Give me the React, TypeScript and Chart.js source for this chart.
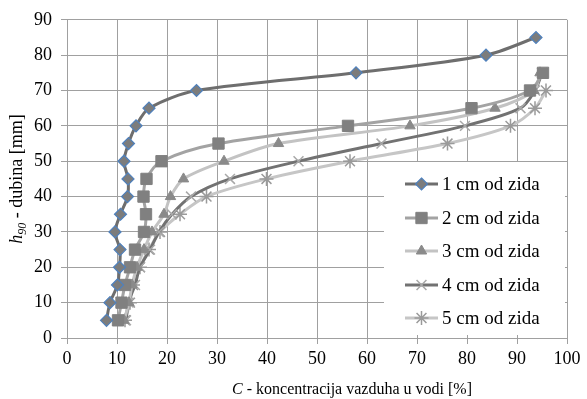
import { useEffect, useRef } from 'react';
import { Chart, registerables } from 'chart.js';

Chart.register(...registerables);

const seriesLabels = ['1 cm od zida', '2 cm od zida', '3 cm od zida', '4 cm od zida', '5 cm od zida'];

const depth1 = [5, 10, 15, 20, 25, 30, 35, 40, 45, 50, 55, 60, 65, 70, 75, 80, 85];
const conc1 = [7.9, 8.6, 10.1, 10.5, 10.6, 9.6, 10.7, 12.1, 12.2, 11.4, 12.3, 13.8, 16.4, 25.9, 57.8, 83.8, 93.8];

const depth2 = [5, 10, 15, 20, 25, 30, 35, 40, 45, 50, 55, 60, 65, 70, 75];
const conc2 = [10.2, 10.9, 11.6, 12.6, 13.6, 15.4, 15.8, 15.3, 15.9, 18.9, 30.3, 56.2, 80.9, 92.6, 95.2];

const depth3 = [5, 10, 15, 20, 25, 30, 35, 40, 45, 50, 55, 60, 65, 70, 75];
const conc3 = [11.4, 12.4, 13.0, 14.0, 15.4, 17.0, 19.4, 20.7, 23.3, 31.4, 42.3, 68.6, 85.6, 93.4, 94.6];

const depth4 = [5, 10, 15, 20, 25, 30, 35, 40, 45, 50, 55, 60, 65, 70, 75];
const conc4 = [11.8, 12.3, 13.6, 14.6, 16.6, 18.4, 21.0, 24.8, 32.6, 46.3, 62.9, 79.6, 90.7, 93.6, 95.0];

const depth5 = [5, 10, 15, 20, 25, 30, 35, 40, 45, 50, 55, 60, 65, 70];
const conc5 = [11.6, 12.6, 13.2, 14.6, 16.4, 18.6, 22.6, 27.9, 39.9, 56.6, 76.1, 88.7, 93.6, 95.8];

const xTicks = [0, 10, 20, 30, 40, 50, 60, 70, 80, 90, 100];
const yTicks = [0, 10, 20, 30, 40, 50, 60, 70, 80, 90];

const SERIF = "'Liberation Serif', 'Times New Roman', serif";
Chart.defaults.font.family = SERIF;

const pts = (xs: number[], ys: number[]) => xs.map((x, i) => ({ x, y: ys[i] }));

function drawMarker(ctx: CanvasRenderingContext2D, style: string, x: number, y: number, r: number) {
  ctx.beginPath();
  if (style === 'rectRot') {
    ctx.moveTo(x, y - r);
    ctx.lineTo(x + r, y);
    ctx.lineTo(x, y + r);
    ctx.lineTo(x - r, y);
    ctx.closePath();
    ctx.fill();
    ctx.stroke();
  } else if (style === 'rect') {
    const s = r * Math.SQRT1_2;
    ctx.rect(x - s, y - s, 2 * s, 2 * s);
    ctx.fill();
    ctx.stroke();
  } else if (style === 'triangle') {
    ctx.moveTo(x, y - r);
    ctx.lineTo(x + r * 0.866, y + r * 0.5);
    ctx.lineTo(x - r * 0.866, y + r * 0.5);
    ctx.closePath();
    ctx.fill();
    ctx.stroke();
  } else if (style === 'crossRot') {
    const d = r * Math.SQRT1_2;
    ctx.moveTo(x - d, y - d); ctx.lineTo(x + d, y + d);
    ctx.moveTo(x - d, y + d); ctx.lineTo(x + d, y - d);
    ctx.stroke();
  } else if (style === 'star') {
    const d = r * Math.SQRT1_2;
    ctx.moveTo(x - d, y - d); ctx.lineTo(x + d, y + d);
    ctx.moveTo(x - d, y + d); ctx.lineTo(x + d, y - d);
    ctx.moveTo(x, y - r); ctx.lineTo(x, y + r);
    ctx.moveTo(x - r, y); ctx.lineTo(x + r, y);
    ctx.stroke();
  }
}

const titlesAndLegend = {
  id: 'titlesAndLegend',
  afterDraw(chart: any) {
    const ctx = chart.ctx as CanvasRenderingContext2D;
    const area = chart.chartArea;
    ctx.save();
    // X title
    ctx.fillStyle = '#000';
    ctx.textBaseline = 'alphabetic';
    const xParts: [string, string][] = [
      ['italic 16px ' + SERIF, 'C'],
      ['16px ' + SERIF, ' - koncentracija vazduha u vodi [%]'],
    ];
    let total = 0;
    xParts.forEach(([f, t]) => { ctx.font = f; total += ctx.measureText(t).width; });
    let cx = 352 - total / 2;
    xParts.forEach(([f, t]) => { ctx.font = f; ctx.fillText(t, cx, 394); cx += ctx.measureText(t).width; });

    // Y title
    ctx.save();
    ctx.translate(22, (area.top + area.bottom) / 2);
    ctx.rotate(-Math.PI / 2);
    const yParts: [string, string, number][] = [
      ['italic 18px ' + SERIF, 'h', 0],
      ['italic 12px ' + SERIF, '90', 4],
      ['18px ' + SERIF, ' - dubina [mm]', 0],
    ];
    total = 0;
    yParts.forEach(([f, t]) => { ctx.font = f; total += ctx.measureText(t).width; });
    cx = -total / 2;
    yParts.forEach(([f, t, dy]) => { ctx.font = f; ctx.fillText(t, cx, dy); cx += ctx.measureText(t).width; });
    ctx.restore();

    // Legend box
    const lx = 384, ly = 162, lw = 181, lh = 173;
    ctx.fillStyle = '#fff';
    ctx.fillRect(lx, ly, lw, lh);
    const rowY = [184, 218, 251, 285, 318];
    chart.data.datasets.forEach((ds: any, i: number) => {
      const y = rowY[i];
      ctx.strokeStyle = ds.borderColor;
      ctx.lineWidth = ds.borderWidth;
      ctx.beginPath();
      ctx.moveTo(405, y);
      ctx.lineTo(438, y);
      ctx.stroke();
      ctx.fillStyle = ds.pointBackgroundColor;
      ctx.strokeStyle = ds.pointBorderColor;
      ctx.lineWidth = ds.pointBorderWidth;
      drawMarker(ctx, ds.pointStyle, 421.5, y, ds.pointRadius);
      ctx.fillStyle = '#000';
      ctx.font = '19px ' + SERIF;
      ctx.textBaseline = 'middle';
      ctx.fillText(ds.label, 442, y + 1);
    });
    ctx.restore();
  },
};

export default function App() {
  const ref = useRef<HTMLCanvasElement>(null);
  useEffect(() => {
    if (!ref.current) return;
    const mk = (i: number, d: number[], c: number[], line: string, style: string, fill: string, border: string, radius: number, bw: number) => ({
      label: seriesLabels[i],
      data: pts(c, d),
      showLine: true,
      borderColor: line,
      borderWidth: 3,
      tension: 0.3,
      pointStyle: style,
      pointBackgroundColor: fill,
      pointBorderColor: border,
      pointBorderWidth: bw,
      pointRadius: radius,
      pointHoverRadius: radius,
    });
    const chart = new Chart(ref.current, {
      type: 'scatter',
      data: {
        datasets: [
          mk(0, depth1, conc1, '#6e6e6e', 'rectRot', '#7c7c7c', '#4f81bd', 6, 1.2),
          mk(1, depth2, conc2, '#a3a3a3', 'rect', '#808080', '#808080', 8, 1),
          mk(2, depth3, conc3, '#c3c3c3', 'triangle', '#8a8a8a', '#8a8a8a', 6, 1),
          mk(3, depth4, conc4, '#727272', 'crossRot', '#a8a8a8', '#a8a8a8', 7, 1.5),
          mk(4, depth5, conc5, '#c6c6c6', 'star', '#9a9a9a', '#9a9a9a', 7, 1.5),
        ] as any,
      },
      options: {
        animation: false,
        responsive: false,
        maintainAspectRatio: false,
        layout: { padding: { top: 17, right: 20, left: 0, bottom: 0 } },
        plugins: { legend: { display: false }, tooltip: { enabled: false }, title: { display: false } },
        scales: {
          x: {
            type: 'linear',
            min: 0,
            max: 100,
            afterFit: (s: any) => { s.height = 61; },
            afterBuildTicks: (s: any) => { s.ticks = xTicks.map((v) => ({ value: v })); },
            ticks: { font: { family: SERIF, size: 18 }, color: '#000', padding: 4, maxRotation: 0 },
            grid: { color: '#a0a0a0', lineWidth: 1, tickLength: 6 },
            border: { color: '#a0a0a0' },
          },
          y: {
            type: 'linear',
            min: 0,
            max: 90,
            afterFit: (s: any) => { s.width = 67; },
            afterBuildTicks: (s: any) => { s.ticks = yTicks.map((v) => ({ value: v })); },
            ticks: { font: { family: SERIF, size: 18 }, color: '#000', padding: 9 },
            grid: { color: '#a0a0a0', lineWidth: 1, tickLength: 6 },
            border: { color: '#a0a0a0' },
          },
        },
      },
      plugins: [titlesAndLegend],
    });
    return () => chart.destroy();
  }, []);
  return (
    <div style={{ position: 'fixed', left: 0, top: 0, width: 587, height: 399, background: '#fff' }}>
      <canvas ref={ref} width={587} height={399} style={{ display: 'block' }} />
    </div>
  );
}
